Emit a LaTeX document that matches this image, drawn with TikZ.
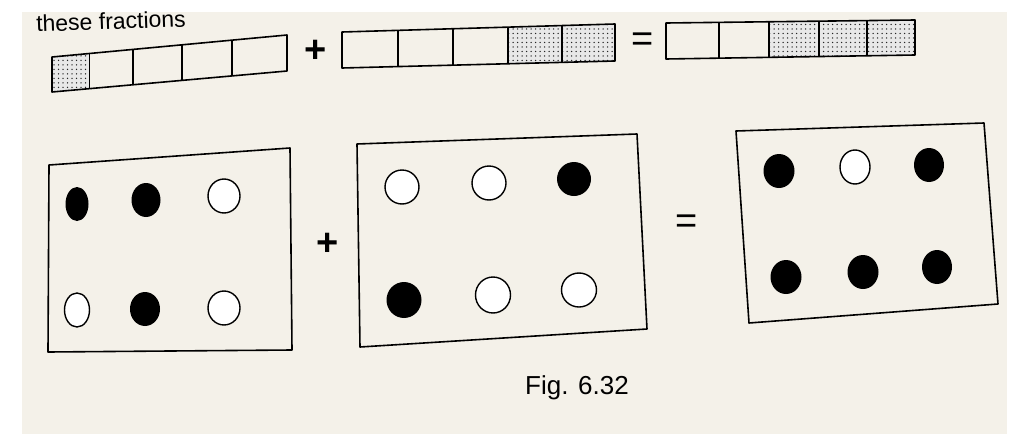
\documentclass[tikz,border=0pt]{standalone}
\usepackage{fontspec}
\setmainfont{Liberation Sans}
\usepackage{xcolor}
\usepackage{tikz}
\usetikzlibrary{calc,patterns.meta,shapes.geometric}

\definecolor{papier}{RGB}{244,241,233}

\tikzset{
  rand/.style={line width=1.6pt, line join=round},
  punkte/.style={fill=gray!18,
    postaction={pattern color=black!85, pattern={Dots[distance=4.5pt,radius=0.75pt]}}},
  kreis/.style={ellipse, inner sep=0pt, minimum width=32pt, minimum height=34pt},
  voll/.style={kreis, fill=black},
  leer/.style={kreis, draw, line width=1.4pt, fill=white},
  zeichen/.style={font=\fontsize{38}{40}\selectfont\bfseries},
  gleich/.style={font=\fontsize{38}{40}\selectfont}
}

\begin{document}
\begin{tikzpicture}[x=1pt,y=-1pt]
  \useasboundingbox (0,0) rectangle (1013,434);
  % Papier
  \fill[papier] (22,12) rectangle (1007,434);
  \node[anchor=base west, rotate=2, font=\fontsize{23}{25}\selectfont] (kopf) at (33,32) {these fractions};

  % Streifen 1: 1/5
  \coordinate (s1ol) at (52,57);  \coordinate (s1or) at (287,35);
  \coordinate (s1ur) at (287,71); \coordinate (s1ul) at (52,92);
  \fill[punkte] (s1ul) -- ($(s1ul)!.16!(s1ur)$) -- ($(s1ol)!.16!(s1or)$) -- (s1ol) -- cycle;
  \draw[rand] (s1ol) -- (s1or) -- (s1ur) -- (s1ul) -- cycle;
  \foreach \t in {.16,.345,.553,.766}
    \draw[rand] ($(s1ol)!\t!(s1or)$) -- ($(s1ul)!\t!(s1ur)$);

  \node[zeichen] (plusoben) at (316,51) {+};

  % Streifen 2: 2/5
  \coordinate (s2ol) at (342,32);  \coordinate (s2or) at (615,24);
  \coordinate (s2ur) at (615,61);  \coordinate (s2ul) at (342,68);
  \fill[punkte] ($(s2ul)!.608!(s2ur)$) -- (s2ur) -- (s2or) -- ($(s2ol)!.608!(s2or)$) -- cycle;
  \draw[rand] (s2ol) -- (s2or) -- (s2ur) -- (s2ul) -- cycle;
  \foreach \t in {.205,.407,.608,.806}
    \draw[rand] ($(s2ol)!\t!(s2or)$) -- ($(s2ul)!\t!(s2ur)$);

  \node[gleich] (gleichoben) at (643,42) {=};

  % Streifen 3: 3/5
  \coordinate (s3ol) at (666,23);  \coordinate (s3or) at (915,20);
  \coordinate (s3ur) at (915,55);  \coordinate (s3ul) at (666,59);
  \fill[punkte] ($(s3ul)!.414!(s3ur)$) -- (s3ur) -- (s3or) -- ($(s3ol)!.414!(s3or)$) -- cycle;
  \draw[rand] (s3ol) -- (s3or) -- (s3ur) -- (s3ul) -- cycle;
  \foreach \t in {.213,.414,.614,.807}
    \draw[rand] ($(s3ol)!\t!(s3or)$) -- ($(s3ul)!\t!(s3ur)$);

  % Kasten 1: 3/6
  \draw[rand] (49,165) -- (290,148) -- (292,350) -- (48,352) -- cycle;
  \node[voll, minimum width=23pt] (k1a) at (77,204) {};
  \node[voll, minimum width=29pt] (k1b) at (146,200) {};
  \node[leer] (k1c) at (224,196) {};
  \node[leer, minimum width=25pt] (k1d) at (77,310) {};
  \node[voll, minimum width=30pt] (k1e) at (145,309) {};
  \node[leer] (k1f) at (224,308) {};

  \node[zeichen] (plusunten) at (328,244) {+};

  % Kasten 2: 2/6
  \draw[rand] (357,144) -- (637,134) -- (647,329) -- (360,347) -- cycle;
  \node[leer, minimum width=34pt] (k2a) at (402,187) {};
  \node[leer, minimum width=34pt] (k2b) at (489,183) {};
  \node[voll, minimum width=34pt] (k2c) at (574,179) {};
  \node[voll, minimum width=35pt, minimum height=36pt] (k2d) at (404,300) {};
  \node[leer, minimum width=35pt, minimum height=36pt] (k2e) at (493,295) {};
  \node[leer, minimum width=35pt] (k2f) at (579,290) {};

  \node[gleich] (gleichunten) at (687,224) {=};

  % Kasten 3: 5/6
  \draw[rand] (736,131) -- (984,123) -- (998,304) -- (749,323) -- cycle;
  \node[voll, minimum width=31pt] (k3a) at (779,171) {};
  \node[leer, minimum width=30pt] (k3b) at (855,167) {};
  \node[voll, minimum width=30pt] (k3c) at (929,165) {};
  \node[voll, minimum width=31pt] (k3d) at (786,277) {};
  \node[voll, minimum width=31pt] (k3e) at (863,272) {};
  \node[voll, minimum width=30pt] (k3f) at (937,267) {};

  % Bildunterschrift
  \node[font=\fontsize{26}{29}\selectfont] (fig) at (577,388) {Fig. 6.32};
\end{tikzpicture}
\end{document}
